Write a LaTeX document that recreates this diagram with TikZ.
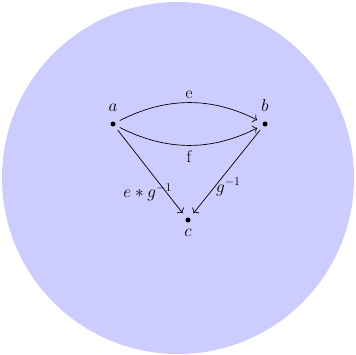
\documentclass[tikz,border=0pt]{standalone}
\usetikzlibrary{arrows.meta}
\definecolor{bgblue}{RGB}{204,204,255}
\begin{document}
\begin{tikzpicture}[x=1pt,y=-1pt,
  dot/.style={circle,fill=black,inner sep=0pt,minimum size=5pt},
  lbl/.style={font=\fontsize{17}{19}\selectfont},
  arr/.style={->,>={To[length=4pt,width=9pt]},line width=0.7pt,shorten >=6pt,shorten <=5pt}]
\useasboundingbox (0,0) rectangle (356,355);
\fill[bgblue] (178,178) circle (176);
\node[dot] (a) at (113,124) {};
\node[dot] (b) at (265,124) {};
\node[dot] (c) at (188,220) {};
\node[lbl,anchor=south] (la) at (113,115) {$a$};
\node[lbl,anchor=south] (lb) at (265,115) {$b$};
\node[lbl,anchor=north] (lc) at (188,226) {$c$};
\draw[arr] (a) to[bend left=27] node[lbl,above=1pt] (le) {e} (b);
\draw[arr] (a) to[bend right=27] node[lbl,below=2pt] (lf) {f} (b);
\draw[arr] (a) -- node[lbl,left,pos=0.72,inner sep=0pt,xshift=6pt] (leg) {$e*g^{-1}$} (c);
\draw[arr] (b) -- node[lbl,right,pos=0.66,inner sep=1pt] (lg) {$g^{-1}$} (c);
\end{tikzpicture}
\end{document}
